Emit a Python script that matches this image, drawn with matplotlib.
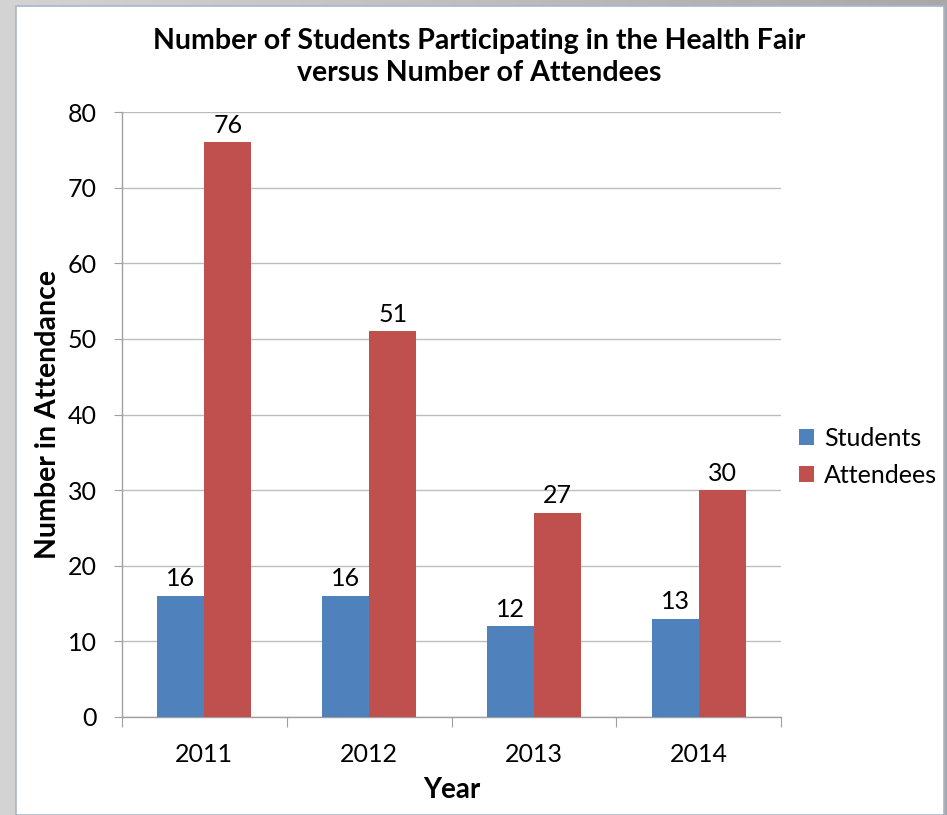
import numpy as np
import matplotlib
matplotlib.use("Agg")
import matplotlib.pyplot as plt
from matplotlib.patches import Rectangle

years = ["2011", "2012", "2013", "2014"]
students = [16, 16, 12, 13]
attendees = [76, 51, 27, 30]
y_ticks = [0, 10, 20, 30, 40, 50, 60, 70, 80]

plt.rcParams['font.family'] = ['Lato', 'DejaVu Sans']

W, H = 947, 815
fig = plt.figure(figsize=(W / 100, H / 100), dpi=100)

# gray gradient background
bg = fig.add_axes([0, 0, 1, 1])
grad = np.linspace(0.83, 0.66, 256).reshape(1, -1)
bg.imshow(np.dstack([grad, grad, grad]), aspect='auto', extent=[0, 1, 0, 1])
bg.set_xlim(0, 1); bg.set_ylim(0, 1)
bg.axis('off')
bg.add_patch(Rectangle((16 / W, 0), (944 - 16) / W, (815 - 6) / H,
                       facecolor='white', edgecolor='#a9b6c8', lw=1.2,
                       transform=bg.transAxes))

ax = fig.add_axes([122 / W, 1 - 717 / H, (781 - 122) / W, (717 - 112) / H])
ax.set_facecolor('none')
x = np.arange(len(years))
w = 1 / 3.5
b1 = ax.bar(x - w / 2, students, w, color='#4F81BD', label='Students', zorder=3)
b2 = ax.bar(x + w / 2, attendees, w, color='#C0504D', label='Attendees', zorder=3)

for bars, vals in ((b1, students), (b2, attendees)):
    for r, v in zip(bars, vals):
        ax.annotate(str(v), (r.get_x() + r.get_width() / 2, v),
                    xytext=(0, 4), textcoords='offset points',
                    ha='center', va='bottom', fontsize=18, color='black')

ax.set_xlim(-0.5, len(years) - 0.5)
ax.set_ylim(0, 80)
ax.set_yticks(y_ticks)
ax.yaxis.grid(True, color='#bdbdbd', lw=1.0, zorder=0)
ax.set_axisbelow(True)

ax.set_xticks(np.arange(-0.5, len(years), 1.0))
ax.set_xticklabels([])
ax.set_xticks(x, minor=True)
ax.set_xticklabels(years, minor=True)
ax.tick_params(axis='x', which='minor', length=0, labelsize=18, pad=19)
ax.tick_params(axis='x', which='major', length=7, color='#a0a0a0', direction='out')
ax.tick_params(axis='y', length=6, color='#a0a0a0', direction='out', labelsize=18, pad=12)

for s in ('top', 'right'):
    ax.spines[s].set_visible(False)
for s in ('left', 'bottom'):
    ax.spines[s].set_color('#a0a0a0')
    ax.spines[s].set_linewidth(1.0)

ax.set_xlabel('Year', fontsize=20, fontweight='bold', labelpad=8)
ax.set_ylabel('Number in Attendance', fontsize=20.5, fontweight='bold', labelpad=5)

fig.text(479 / W, 1 - 57 / H,
         'Number of Students Participating in the Health Fair\nversus Number of Attendees',
         ha='center', va='center', fontsize=20.5, fontweight='bold', linespacing=1.3)

fig.legend(handles=[b1, b2], labels=['Students', 'Attendees'],
           loc='center left', bbox_to_anchor=(789 / W, 1 - 457 / H),
           frameon=False, fontsize=18, handlelength=0.6, handleheight=0.6,
           handletextpad=0.4, labelspacing=0.55, borderaxespad=0)

fig.savefig('out.png', dpi=100)
